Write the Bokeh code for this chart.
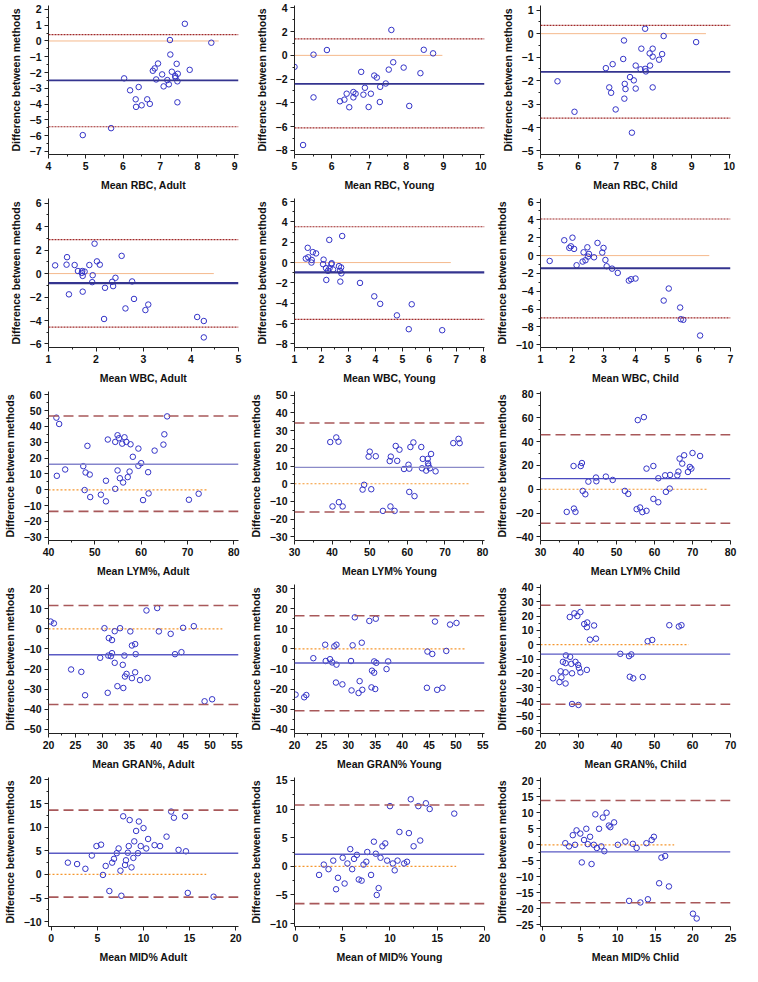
from bokeh.plotting import figure
from bokeh.layouts import gridplot
from bokeh.models import Span, FixedTicker, Range1d
from bokeh.embed import file_html
from bokeh.resources import INLINE

# ---------------- DATA ----------------
# Row 1: RBC
rbc_adult_mean = [7.66, 7.26, 8.37, 7.27, 6.94, 7.44, 6.85, 7.79, 6.80, 7.31, 7.47, 7.05, 7.40, 6.03, 7.41,
                  7.19, 6.89, 7.46, 7.23, 7.09, 6.42, 6.19, 6.34, 6.65, 7.46, 6.72, 6.50, 6.35, 5.68, 4.92]
rbc_adult_diff = [1.09, 0.06, -0.11, -0.86, -1.43, -1.45, -1.74, -1.83, -1.89, -1.95, -2.08, -2.12, -2.23, -2.37, -2.33,
                  -2.48, -2.44, -2.56, -2.75, -2.88, -2.92, -3.13, -3.70, -3.70, -3.89, -3.99, -4.08, -4.18, -5.53, -5.97]
rbc_adult_stats = [-2.50, 0.40, -5.44, 8.57]   # bias, upper LoA, lower LoA, end of zero line

rbc_young_mean = [5.00, 5.51, 5.87, 5.51, 5.23, 7.60, 8.47, 8.72, 7.65, 7.93, 7.53, 8.38, 6.79, 7.14, 7.21,
                  7.45, 7.30, 6.89, 6.58, 6.64, 6.40, 7.05, 6.85, 6.58, 6.34, 6.22, 7.29, 6.47, 6.99, 8.08]
rbc_young_diff = [-0.97, 0.06, 0.45, -3.54, -7.55, 2.14, 0.47, 0.17, -0.58, -1.03, -1.20, -1.50, -1.39, -1.70, -1.87,
                  -2.37, -2.65, -2.73, -3.09, -3.23, -3.23, -3.23, -3.31, -3.54, -3.73, -3.87, -3.93, -4.37, -4.35, -4.26]
rbc_young_stats = [-2.40, 1.39, -6.10, 8.97]

rbc_child_mean = [7.77, 8.26, 9.12, 7.21, 7.67, 7.97, 7.89, 8.22, 7.97, 8.14, 7.19, 6.91, 7.52, 7.90, 6.73, 7.65,
                  7.77, 7.79, 7.37, 7.47, 7.23, 5.45, 6.82, 7.52, 7.97, 7.25, 6.87, 7.22, 6.99, 5.90, 7.42]
rbc_child_diff = [0.21, -0.10, -0.36, -0.29, -0.64, -0.64, -0.84, -0.87, -0.98, -1.11, -1.08, -1.30, -1.36, -1.36, -1.47,
                  -1.52, -1.50, -1.61, -1.85, -1.99, -2.14, -2.03, -2.29, -2.34, -2.29, -2.36, -2.52, -2.77, -3.23, -3.33, -4.22]
rbc_child_stats = [-1.63, 0.35, -3.60, 9.38]

# Row 2: WBC
wbc_adult_mean = [1.14, 1.39, 1.38, 1.55, 1.43, 1.62, 1.71, 1.70, 1.76, 1.72, 1.86, 1.97, 2.02, 2.08, 1.93, 1.92,
                  1.72, 2.19, 2.17, 2.41, 2.34, 2.36, 2.54, 2.76, 2.80, 2.62, 3.04, 3.10, 4.13, 4.27, 4.27]
wbc_adult_diff = [0.70, 1.40, 0.76, 0.73, -1.77, 0.22, 0.22, 0.06, 0.17, -0.20, 0.73, 2.55, 1.04, 0.76, -0.14, -0.73,
                  -1.54, -1.21, -3.87, -0.36, -0.70, -1.07, 1.51, -0.67, -2.16, -2.97, -3.11, -2.64, -3.70, -4.04, -5.44]
wbc_adult_stats = [-0.81, 2.89, -4.57, 4.48]

wbc_young_mean = [1.49, 1.42, 1.51, 1.68, 1.80, 1.64, 1.63, 2.08, 2.06, 2.17, 2.24, 2.18, 2.29, 2.77, 2.38,
                  2.37, 2.30, 2.43, 2.65, 2.73, 2.69, 2.74, 2.70, 3.43, 3.96, 4.18, 5.35, 4.80, 5.24, 6.48]
wbc_young_diff = [1.45, 0.39, 0.52, 1.03, 0.90, 0.26, 0.00, 0.29, -0.16, -0.55, -0.81, -1.71, 2.23, 2.61, -0.06,
                  -0.16, -0.55, -0.68, -0.35, -0.48, -0.81, -1.06, -1.87, -2.00, -3.32, -4.06, -4.10, -5.19, -6.55, -6.65]
wbc_young_stats = [-0.97, 3.52, -5.58, 6.80]

wbc_child_mean = [1.29, 1.75, 2.01, 1.96, 1.91, 2.06, 2.14, 2.36, 2.48, 2.53, 2.50, 2.42, 2.33, 2.69, 2.80,
                  2.99, 2.95, 3.05, 3.09, 3.26, 3.44, 3.79, 3.86, 4.00, 4.89, 5.05, 5.41, 5.43, 5.51, 6.04]
wbc_child_diff = [-0.60, 1.72, 2.01, 1.04, 0.86, 0.75, -1.08, 0.37, 0.93, 0.19, -0.11, -0.52, -0.67, -0.19, 1.42,
                  0.86, 0.34, -0.49, -1.19, -1.46, -1.94, -2.80, -2.65, -2.57, -5.04, -3.69, -5.82, -7.13, -7.20, -8.96]
wbc_child_stats = [-1.42, 4.10, -6.98, 6.33]

# Row 3: LYM%
lym_adult_mean = [41.7, 42.3, 41.8, 43.6, 47.5, 48.0, 48.4, 48.9, 47.8, 49.0, 51.3, 52.4, 52.4, 52.8, 54.4, 54.9,
                  55.2, 54.9, 55.4, 54.4, 55.9, 56.4, 56.8, 56.1, 57.1, 57.5, 57.7, 58.2, 59.4, 59.4, 60.0, 60.4,
                  61.5, 61.6, 62.9, 64.8, 65.0, 65.6, 70.3, 72.4]
lym_adult_diff = [45.5, 41.5, 8.8, 12.8, 14.9, 10.9, 27.7, 9.6, -0.2, -4.6, -3.1, 5.7, -7.3, 31.7, 30.2, 34.4,
                  32.5, 12.2, 7.3, 0.6, 29.1, 33.1, 30.2, 4.6, 8.0, 11.5, 28.7, 20.8, 26.0, 15.1, 16.8, -6.5,
                  11.1, -2.3, 24.7, 28.5, 35.0, 46.3, -6.3, -2.5]
lym_adult_stats = [16.1, 46.5, -13.6, 74.3]

lym_young_mean = [39.5, 41.1, 41.7, 40.1, 41.8, 42.8, 50.0, 49.7, 51.6, 55.6, 55.3, 56.9, 57.9, 57.3, 48.1, 48.5,
                  50.4, 53.5, 55.5, 56.6, 59.1, 60.3, 60.5, 60.8, 61.6, 60.5, 61.9, 63.7, 64.1, 63.9, 65.0, 65.4,
                  65.5, 65.6, 66.0, 66.3, 67.5, 72.2, 73.6, 73.9]
lym_young_diff = [23.5, 26.1, 23.7, -12.8, -10.4, -12.8, 18.1, 15.3, 15.5, 15.3, 12.8, 21.3, 19.2, 12.9, -3.3, -0.6,
                  -3.1, -15.3, -12.8, -15.3, 8.3, 10.7, 8.5, 20.7, 23.3, -4.6, -7.0, 20.7, 14.0, 8.7, 7.4, 14.0,
                  11.5, 10.2, 8.7, 16.8, 7.0, 22.9, 25.3, 22.9]
lym_young_stats = [9.2, 34.2, -15.9, 76.3]

lym_child_mean = [36.9, 38.8, 39.2, 38.7, 40.6, 40.9, 41.1, 41.8, 42.6, 44.6, 44.7, 47.2, 49.0, 52.2, 53.1, 55.6,
                  57.2, 55.3, 56.2, 56.8, 57.9, 57.9, 59.7, 59.7, 61.0, 61.0, 62.8, 64.1, 63.0, 64.0, 66.0, 66.3,
                  66.6, 67.3, 67.8, 68.8, 69.3, 69.7, 70.0, 72.0]
lym_child_diff = [-19.0, -16.2, -19.0, 19.5, 19.5, 22.0, -1.4, -4.2, 6.4, 9.8, 6.7, 10.6, 7.8, -1.4, -3.9, 58.0,
                  60.5, -16.7, -15.3, -19.2, -18.1, 17.3, 19.5, -8.1, -10.9, 9.2, 11.7, 12.0, -2.2, 0.6, 11.7, 14.8,
                  25.7, 21.5, 28.5, 14.5, 18.7, 17.3, 30.4, 27.9]
lym_child_stats = [8.9, 45.7, -28.5, 74.1]

# Row 4: GRAN%
gran_adult_mean = [20.4, 21.0, 24.2, 26.1, 26.8, 29.6, 30.4, 31.2, 31.8, 31.1, 31.6, 31.8, 32.3, 32.3, 31.0, 33.3,
                   32.8, 33.8, 34.1, 34.2, 34.5, 33.9, 35.2, 35.5, 36.1, 36.2, 35.5, 36.1, 37.0, 38.4, 38.2, 40.2,
                   40.5, 42.7, 43.5, 44.7, 45.0, 47.0, 49.0, 50.4]
gran_adult_diff = [3.6, 2.7, -20.2, -21.4, -33.0, -14.4, 0.3, -4.6, -5.6, -13.3, -13.6, -12.1, -1.2, -16.9, -31.8, 0.3,
                   -28.5, -17.9, -13.3, -23.7, -22.4, -29.4, -1.3, -8.3, -7.6, -12.6, -24.5, -21.6, -25.5, -24.4, 9.1, 10.3,
                   -1.3, -2.5, -12.6, -11.6, 0.5, 1.3, -36.0, -35.0]
gran_adult_stats = [-12.9, 11.6, -37.6, 52.3]

gran_young_mean = [20.2, 21.8, 22.2, 23.5, 25.7, 25.8, 26.6, 27.0, 27.4, 27.8, 27.8, 27.7, 28.9, 30.5, 30.8, 30.6,
                   31.2, 32.1, 31.9, 32.5, 32.6, 33.9, 35.1, 34.4, 34.8, 34.8, 35.2, 34.3, 35.0, 37.1, 37.4, 44.6,
                   44.7, 45.6, 46.1, 46.5, 47.5, 48.2, 48.9, 50.1]
gran_young_diff = [-22.7, -24.0, -22.9, -4.6, 2.1, -6.0, -5.1, -6.7, 1.3, 2.1, -7.8, -16.7, -17.6, -6.0, 1.8, -20.6,
                   15.7, -16.0, -21.9, 3.1, -20.3, 13.9, 15.0, -10.8, -6.2, -11.8, -6.9, -19.1, -19.9, -10.0, -6.2, -19.3,
                   -1.3, -2.5, 13.6, -20.3, -19.3, -1.0, 12.1, 12.9]
gran_young_stats = [-7.0, 16.5, -30.7, 51.7]

gran_child_mean = [23.3, 25.0, 25.5, 25.3, 25.9, 26.6, 26.6, 26.6, 26.7, 27.8, 27.7, 28.1, 28.3, 28.3, 28.9, 29.2,
                   29.7, 29.9, 30.1, 30.5, 30.5, 30.0, 31.5, 32.2, 32.3, 32.2, 34.1, 33.0, 34.6, 41.0, 43.3, 43.9,
                   43.5, 44.4, 46.9, 48.2, 49.4, 53.9, 56.4, 57.1]
gran_child_diff = [-23.5, -26.1, -22.8, -18.6, -12.0, -12.9, -19.3, -27.1, -7.5, -8.5, 19.3, -13.4, -20.0, -41.4, 21.9, -12.0,
                   20.0, -14.1, -16.2, 22.8, -19.3, -42.1, 14.4, -17.6, 15.5, 12.2, 13.4, 3.5, 4.2, -6.4, -8.0, -6.8,
                   -22.4, -23.5, -22.6, 2.4, 3.3, 13.6, 12.7, 13.6]
gran_child_stats = [-6.6, 27.5, -41.6, 59.0]

# Row 5: MID%
mid_adult_mean = [1.8, 2.8, 3.7, 4.4, 4.9, 5.4, 5.6, 5.9, 6.3, 6.6, 6.8, 7.1, 7.3, 7.5, 7.6, 7.8, 8.0, 8.1, 8.3, 8.4,
                  8.5, 8.7, 8.9, 9.0, 9.2, 9.4, 9.5, 9.7, 10.0, 10.3, 10.5, 11.2, 11.8, 12.5, 13.0, 13.3, 13.8, 14.5,
                  14.6, 14.8, 17.6]
mid_adult_diff = [2.5, 2.2, 1.2, 4.0, 6.0, 6.3, -0.1, 1.8, -3.5, 2.5, 3.3, 4.5, 5.5, 0.8, -4.5, 12.3, 2.0, 3.0, 4.6, 6.0,
                  11.5, 1.5, 3.5, 7.0, 9.2, 4.5, 11.2, 6.0, 9.8, 5.5, 7.5, 6.2, 6.0, 8.0, 13.3, 12.0, 5.2, 12.3,
                  4.9, -3.9, -4.7]
mid_adult_stats = [4.5, 13.6, -4.8, 16.8]

mid_young_mean = [2.5, 3.0, 3.5, 4.0, 4.3, 4.5, 5.0, 5.2, 5.5, 5.8, 6.0, 6.2, 6.5, 6.7, 7.0, 7.2, 7.5, 7.6, 8.0, 8.3,
                  8.5, 8.6, 8.8, 9.0, 9.2, 9.5, 9.7, 10.0, 10.3, 10.5, 10.8, 11.0, 11.5, 11.8, 12.0, 12.2, 12.5, 13.0,
                  13.2, 13.8, 14.2, 16.8]
mid_young_diff = [-1.5, 0.3, -0.5, 1.0, -4.0, -2.0, 1.5, -3.0, 0.5, 3.0, -0.5, 1.3, 2.0, -2.3, -2.5, 0.3, 0.8, 2.5, -1.5, 4.3,
                  2.2, -5.0, -3.8, 1.5, 3.5, 4.0, 1.0, 10.5, 0.5, -0.7, 1.0, 6.0, 0.5, 0.8, 5.8, 11.7, 3.5, 10.5,
                  4.5, 11.0, 10.0, 9.2]
mid_young_stats = [2.1, 10.7, -6.5, 17.0]

mid_child_mean = [3.0, 3.5, 4.0, 4.3, 4.5, 5.0, 5.2, 5.5, 5.8, 6.0, 6.3, 6.5, 6.8, 7.0, 7.2, 7.5, 7.8, 8.0, 8.2, 8.5,
                  8.8, 9.0, 9.5, 10.0, 11.0, 11.5, 12.0, 12.5, 13.0, 13.8, 14.0, 14.5, 14.8, 15.5, 15.8, 16.3, 16.8,
                  20.0, 20.5]
mid_child_diff = [0.5, -0.5, 3.0, 0.0, 4.5, 3.5, -5.5, 1.5, 5.0, 0.2, 2.5, -6.0, 0.0, 9.5, -1.0, 5.0, -0.5, 8.5, -2.0, 10.0,
                  6.0, 5.5, 7.0, 0.0, 1.0, -17.5, 0.3, -1.0, -18.0, 0.5, -17.0, 1.5, 2.5, -12.0, -4.0, -3.5, -13.0,
                  -21.5, -23.0]
mid_child_stats = [-2.2, 13.8, -18.1, 17.5]

# Axis labels and tick values
x_labels = ["Mean RBC, Adult", "Mean RBC, Young", "Mean RBC, Child",
            "Mean WBC, Adult", "Mean WBC, Young", "Mean WBC, Child",
            "Mean LYM%, Adult", "Mean LYM% Young", "Mean LYM% Child",
            "Mean GRAN%, Adult", "Mean GRAN% Young", "Mean GRAN%, Child",
            "Mean MID% Adult", "Mean of MID% Young", "Mean MID% Chlid"]
y_label = "Difference between methods"

x_ticks = [[4, 5, 6, 7, 8, 9], [5, 6, 7, 8, 9, 10], [5, 6, 7, 8, 9, 10],
           [1, 2, 3, 4, 5], [1, 2, 3, 4, 5, 6, 7, 8], [1, 2, 3, 4, 5, 6, 7],
           [40, 50, 60, 70, 80], [30, 40, 50, 60, 70, 80], [30, 40, 50, 60, 70, 80],
           [20, 25, 30, 35, 40, 45, 50, 55], [20, 25, 30, 35, 40, 45, 50, 55], [20, 30, 40, 50, 60, 70],
           [0, 5, 10, 15, 20], [0, 5, 10, 15, 20], [0, 5, 10, 15, 20, 25]]
y_ticks = [[-7, -6, -5, -4, -3, -2, -1, 0, 1, 2], [-8, -6, -4, -2, 0, 2, 4], [-5, -4, -3, -2, -1, 0, 1],
           [-6, -4, -2, 0, 2, 4, 6], [-8, -6, -4, -2, 0, 2, 4, 6], [-10, -8, -6, -4, -2, 0, 2, 4, 6],
           [-30, -20, -10, 0, 10, 20, 30, 40, 50, 60], [-30, -20, -10, 0, 10, 20, 30, 40, 50],
           [-40, -20, 0, 20, 40, 60, 80],
           [-50, -40, -30, -20, -10, 0, 10, 20], [-40, -30, -20, -10, 0, 10, 20, 30],
           [-60, -50, -40, -30, -20, -10, 0, 10, 20, 30, 40],
           [-10, -5, 0, 5, 10, 15, 20], [-10, -5, 0, 5, 10, 15], [-25, -20, -15, -10, -5, 0, 5, 10, 15, 20]]

series = [(rbc_adult_mean, rbc_adult_diff, rbc_adult_stats),
          (rbc_young_mean, rbc_young_diff, rbc_young_stats),
          (rbc_child_mean, rbc_child_diff, rbc_child_stats),
          (wbc_adult_mean, wbc_adult_diff, wbc_adult_stats),
          (wbc_young_mean, wbc_young_diff, wbc_young_stats),
          (wbc_child_mean, wbc_child_diff, wbc_child_stats),
          (lym_adult_mean, lym_adult_diff, lym_adult_stats),
          (lym_young_mean, lym_young_diff, lym_young_stats),
          (lym_child_mean, lym_child_diff, lym_child_stats),
          (gran_adult_mean, gran_adult_diff, gran_adult_stats),
          (gran_young_mean, gran_young_diff, gran_young_stats),
          (gran_child_mean, gran_child_diff, gran_child_stats),
          (mid_adult_mean, mid_adult_diff, mid_adult_stats),
          (mid_young_mean, mid_young_diff, mid_young_stats),
          (mid_child_mean, mid_child_diff, mid_child_stats)]

# ---------------- LAYOUT / STYLE ----------------
x_ranges = [(4, 9.1), (5, 10.1), (5, 10.03), (1, 5.0), (1, 8.05), (1, 7.0),
            (40, 81), (30, 80.5), (30, 80), (20, 55.3), (20, 55.3), (20, 70),
            (-0.3, 20.3), (-0.1, 20.0), (-0.3, 25.0)]
y_ranges = [(-7.2, 2.25), (-8.35, 4.2), (-5.15, 1.2), (-6.3, 6.4), (-8.35, 6.3), (-10.3, 6.4),
            (-32, 62), (-32, 52), (-43, 82), (-52, 22), (-42, 32), (-62, 42),
            (-11, 20.5), (-10.5, 15.5), (-25.5, 21)]

FONT = "Liberation Sans"
MARKER = "#3434c8"
W, H = 246, 193


def mids(t):
    return [(a + b) / 2 for a, b in zip(t[:-1], t[1:])]


figs = []
for i, (xs, ys, st) in enumerate(series):
    row = i // 3
    bias, upper, lower, zend = st
    x0, x1 = x_ranges[i]
    y0, y1 = y_ranges[i]
    p = figure(width=W, height=H, output_backend="svg", toolbar_location=None,
               x_range=Range1d(x0, x1), y_range=Range1d(y0, y1),
               min_border_left=40, min_border_right=8, min_border_top=5, min_border_bottom=34)
    p.outline_line_color = None
    p.xgrid.grid_line_color = None
    p.ygrid.grid_line_color = None
    p.background_fill_color = "white"
    p.border_fill_color = "white"

    if row < 2:
        zero_kw = dict(line_color="#f5b98c", line_width=1)
        lim_kw = dict(line_color="#a02828", line_width=1.2, line_dash="2 1")
        mean_kw = dict(line_color="#34348f", line_width=1.6 if row == 0 else 2.2)
    else:
        zero_kw = dict(line_color="#f5962e", line_width=1.2, line_dash="2 2")
        lim_kw = dict(line_color="#a8585a", line_width=1.6, line_dash="10 5")
        mc = {6: "#8585cc", 7: "#8a8ac8", 8: "#4a4ac0"}.get(i, "#5a5ac4")
        mean_kw = dict(line_color=mc, line_width=1.4)

    p.add_layout(Span(location=upper, dimension="width", **lim_kw))
    p.add_layout(Span(location=lower, dimension="width", **lim_kw))
    p.segment(x0=[x0], y0=[0], x1=[zend], y1=[0], **zero_kw)
    p.add_layout(Span(location=bias, dimension="width", **mean_kw))

    p.scatter(xs, ys, marker="circle", size=5.5, fill_color=None,
              line_color=MARKER, line_width=1)

    xt = x_ticks[i]
    yt = y_ticks[i]
    p.xaxis.ticker = FixedTicker(ticks=xt, minor_ticks=mids(xt))
    p.yaxis.ticker = FixedTicker(ticks=yt, minor_ticks=mids(yt))
    p.xaxis.axis_label = x_labels[i]
    p.yaxis.axis_label = y_label
    for ax in (p.xaxis, p.yaxis):
        ax.axis_label_text_font = FONT
        ax.axis_label_text_font_style = "bold"
        ax.axis_label_text_font_size = "10.5px"
        ax.axis_label_text_color = "#111111"
        ax.major_label_text_font = FONT
        ax.major_label_text_font_style = "bold"
        ax.major_label_text_font_size = "10.5px"
        ax.major_label_text_color = "#111111"
        ax.axis_line_color = "#222222"
        ax.axis_line_width = 1
        ax.major_tick_line_color = "#222222"
        ax.minor_tick_line_color = "#222222"
        ax.major_tick_out = 4
        ax.major_tick_in = 0
        ax.minor_tick_out = 2
        ax.minor_tick_in = 0
        ax.major_label_standoff = 3
    p.xaxis.axis_label_standoff = 6
    p.yaxis.axis_label_standoff = 5
    figs.append(p)

grid = gridplot([figs[r * 3:(r + 1) * 3] for r in range(5)], toolbar_location=None)

open("out.html", "w").write(file_html(grid, INLINE))
